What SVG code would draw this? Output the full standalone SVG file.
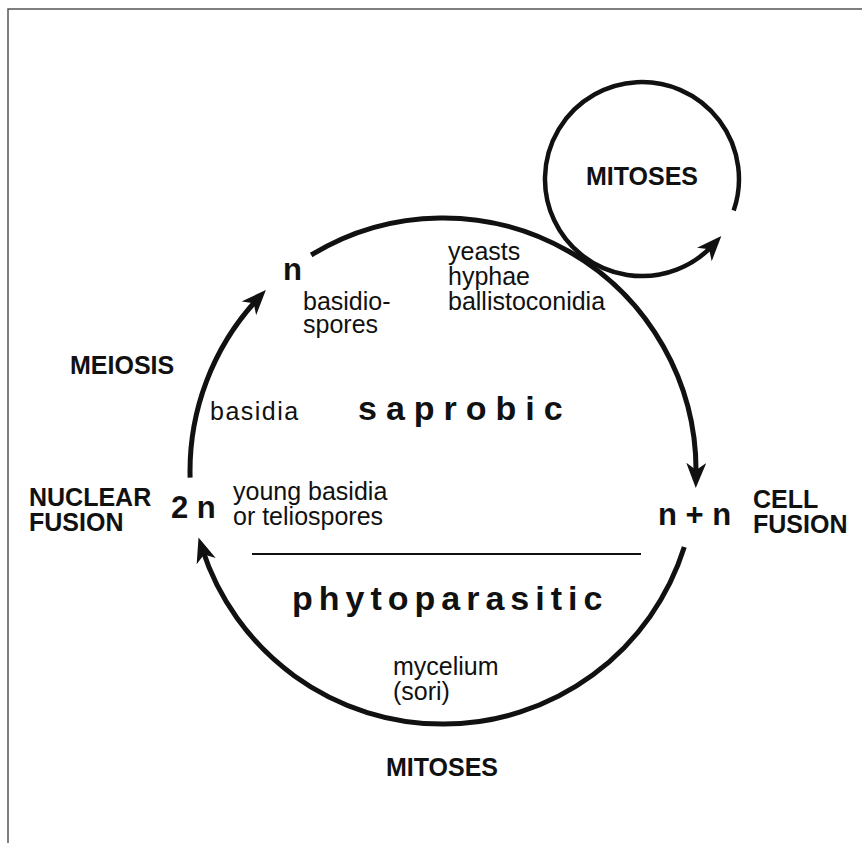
<svg xmlns="http://www.w3.org/2000/svg" width="862" height="843" viewBox="0 0 862 843">
<style>
.arc{fill:none;stroke:#111;stroke-width:5}
.t{font-family:"Liberation Sans",Arial,sans-serif;font-size:25px;fill:#111}
.b{font-family:"Liberation Sans",Arial,sans-serif;font-size:25px;font-weight:bold;fill:#111}
.big{font-family:"Liberation Sans",Arial,sans-serif;font-size:31px;font-weight:bold;fill:#111}
.hab{font-family:"Liberation Sans",Arial,sans-serif;font-size:34px;font-weight:bold;fill:#111}
</style>
<defs>
<marker id="ah" markerUnits="userSpaceOnUse" markerWidth="26" markerHeight="20" viewBox="0 0 26 20" refX="13" refY="10" orient="auto">
<path d="M25 10 L0 0 L7 10 L0 20 Z" fill="#111"/>
</marker>
</defs>
<rect x="0" y="0" width="862" height="843" fill="#fff"/>
<rect x="8" y="9" width="900" height="900" fill="none" stroke="#555" stroke-width="1.5"/>
<g id="connectors">
<path class="arc" d="M190.1 477.6 A253 253 0 0 1 257.7 298.8" marker-end="url(#ah)"/>
<path class="arc" d="M311.2 255.0 A253 253 0 0 1 696.0 475.9" marker-end="url(#ah)"/>
<path class="arc" d="M684.3 547.1 A253 253 0 0 1 202.2 548.8" marker-end="url(#ah)"/>
<path class="arc" style="stroke-width:4.5" d="M733.7 210.6 A97 97 0 1 0 713.2 244.9" marker-end="url(#ah)"/>
<line x1="252" y1="554" x2="641" y2="554" stroke="#111" stroke-width="2"/>
</g>
<g id="mitoses-loop"><text class="b" x="642" y="185" text-anchor="middle">MITOSES</text></g>
<g id="haploid">
<text class="big" x="283" y="280">n</text>
<text class="t" x="303" y="310">basidio-</text>
<text class="t" x="303" y="333">spores</text>
</g>
<g id="yeasts">
<text class="t" x="448" y="260">yeasts</text>
<text class="t" x="448" y="285">hyphae</text>
<text class="t" x="448" y="310">ballistoconidia</text>
</g>
<g id="meiosis"><text class="b" x="70" y="374">MEIOSIS</text></g>
<g id="basidia"><text class="t" x="210" y="420" style="letter-spacing:1.5px">basidia</text></g>
<g id="saprobic"><text class="hab" x="358" y="420" style="letter-spacing:9px">saprobic</text></g>
<g id="nuclear-fusion">
<text class="b" x="29" y="506">NUCLEAR</text>
<text class="b" x="29" y="531">FUSION</text>
</g>
<g id="diploid">
<text class="big" x="171" y="518">2 n</text>
<text class="t" x="233" y="500">young basidia</text>
<text class="t" x="233" y="525">or teliospores</text>
</g>
<g id="dikaryon"><text class="big" x="658" y="525">n + n</text></g>
<g id="cell-fusion">
<text class="b" x="753" y="508">CELL</text>
<text class="b" x="753" y="533">FUSION</text>
</g>
<g id="phytoparasitic"><text class="hab" x="292" y="610" style="letter-spacing:6px">phytoparasitic</text></g>
<g id="mycelium">
<text class="t" x="393" y="675">mycelium</text>
<text class="t" x="393" y="700">(sori)</text>
</g>
<g id="mitoses-bottom"><text class="b" x="442" y="776" text-anchor="middle">MITOSES</text></g>
</svg>
